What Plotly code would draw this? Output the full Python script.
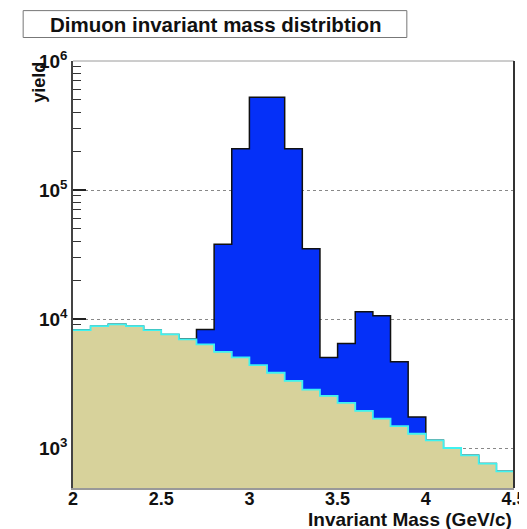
#!/usr/bin/env python3

import plotly.graph_objects as go

# bin edges of the mass histogram (GeV/c), 0.1 wide
bin_lo = 2.0
bin_width = 0.1

# signal + background (blue) and background only (tan), per bin
total = [8200, 8800, 9100, 8800, 8200, 7600, 7000, 8300, 38000, 209000,
         524000, 524000, 209000, 35000, 5040, 6470, 11400, 10600, 4660, 1740,
         1148, 1000, 877, 757, 659]
background = [8200, 8800, 9100, 8800, 8200, 7600, 6950, 6360, 5570, 5040,
              4390, 3830, 3320, 2840, 2535, 2240, 1940, 1690, 1480, 1290,
              1148, 1000, 877, 757, 659]

x_ticks = [2, 2.5, 3, 3.5, 4, 4.5]
x_ticktext = ['2', '2.5', '3', '3.5', '4', '4.5']
y_decades = [1e3, 1e4, 1e5, 1e6]
y_ticktext = ['10<sup>3</sup>', '10<sup>4</sup>', '10<sup>5</sup>', '10<sup>6</sup>']

FONT = 'Liberation Sans, Arial, sans-serif'

edges = [round(bin_lo + bin_width * i, 2) for i in range(len(total) + 1)]


def step_outline(vals):
    return edges, list(vals) + [vals[-1]]


def step_area(vals):
    x, y = step_outline(vals)
    return [edges[0]] + x + [edges[-1]], [1] + y + [1]


def add_hist(fig, vals, fill, line, lw):
    ax, ay = step_area(vals)
    fig.add_trace(go.Scatter(
        x=ax, y=ay, mode='lines', line=dict(width=0, shape='hv'),
        fill='toself', fillcolor=fill, hoverinfo='skip',
    ))
    ox, oy = step_outline(vals)
    fig.add_trace(go.Scatter(
        x=ox, y=oy, mode='lines', line=dict(color=line, width=lw, shape='hv'),
    ))


fig = go.Figure()
add_hist(fig, total, '#0530F8', '#111111', 1.5)
add_hist(fig, background, '#D7D29B', '#3FF2F0', 1.8)

minor_vals = [m * d for d in [100, 1000, 10000, 100000] for m in range(2, 10)]

# the page body adds an 8px margin, so the figure is 8px smaller
fig.update_layout(
    width=519,
    height=521,
    margin=dict(l=65, r=13, t=53, b=41, autoexpand=False),
    paper_bgcolor='white',
    plot_bgcolor='white',
    showlegend=False,
    font=dict(family=FONT, color='#111111'),
    xaxis=dict(
        range=[2, 4.5],
        tickvals=x_ticks,
        ticktext=x_ticktext,
        tickfont=dict(size=18, weight='bold'),
        ticklabeloverflow='allow',
        ticklabelstandoff=-6,
        automargin=False,
        ticks='',
        showgrid=False,
        zeroline=False,
        showline=True,
        linecolor='#999999',
        linewidth=1.5,
        layer='below traces',
    ),
    yaxis=dict(
        type='log',
        range=[2.69, 6],
        tickvals=y_decades,
        ticktext=y_ticktext,
        tickfont=dict(size=19, weight='bold'),
        automargin=False,
        ticks='inside',
        ticklen=13,
        tickwidth=1.5,
        tickcolor='#222222',
        minor=dict(tickvals=minor_vals, ticks='inside', ticklen=8,
                   tickwidth=1.2, tickcolor='#333333', showgrid=False),
        showgrid=True,
        gridcolor='#888888',
        griddash='dot',
        gridwidth=1,
        zeroline=False,
        showline=True,
        linecolor='#444444',
        linewidth=1.5,
        layer='below traces',
    ),
)

# frame top and right edge
fig.add_shape(type='line', xref='paper', yref='paper', x0=0, x1=1, y0=1, y1=1,
              line=dict(color='#9a9a9a', width=1))
fig.add_shape(type='line', xref='paper', yref='paper', x0=1, x1=1, y0=0, y1=1,
              line=dict(color='#333333', width=2))

# ROOT style title box
fig.add_shape(type='rect', xref='paper', yref='paper',
              x0=-0.113, x1=0.757, y0=1.055, y1=1.118,
              line=dict(color='#777777', width=1), fillcolor='white')
fig.add_annotation(
    text='<b>Dimuon invariant mass distribtion</b>',
    xref='paper', yref='paper', x=0.322, y=1.0865,
    showarrow=False, font=dict(size=20.5),
    xanchor='center', yanchor='middle',
)

fig.add_annotation(
    text='<b>yield</b>', textangle=-90,
    xref='paper', yref='paper', x=-0.077, y=1.002,
    showarrow=False, font=dict(size=18),
    xanchor='center', yanchor='top',
)
fig.add_annotation(
    text='<b>Invariant Mass (GeV/c)</b>',
    xref='paper', yref='paper', x=1.0, y=-0.074,
    showarrow=False, font=dict(size=19),
    xanchor='right', yanchor='middle',
)

fig.write_html('out.html')
